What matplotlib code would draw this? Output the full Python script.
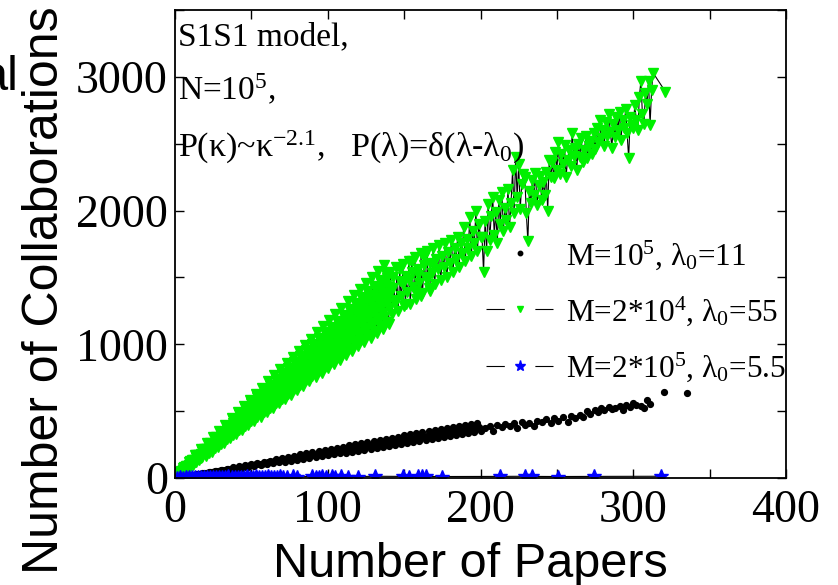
import matplotlib
matplotlib.use("Agg")
import matplotlib.pyplot as plt
from matplotlib.lines import Line2D
from matplotlib.legend_handler import HandlerTuple
from matplotlib.ticker import MultipleLocator

plt.rcParams['font.family'] = ['Liberation Serif', 'DejaVu Serif']
plt.rcParams['mathtext.fontset'] = 'custom'
plt.rcParams['mathtext.rm'] = 'Liberation Serif'
plt.rcParams['mathtext.it'] = 'Liberation Serif:italic'
plt.rcParams['mathtext.bf'] = 'Liberation Serif:bold'
plt.rcParams['mathtext.default'] = 'rm'
plt.rcParams['lines.scale_dashes'] = False

# M=2*10^4, lambda0=55 (papers, collaborations)
green_papers = [
    1, 2, 3, 4, 5, 6, 7, 8, 9, 10, 11, 12, 13, 14, 15, 16, 17, 18, 19, 20,
    21, 22, 23, 24, 25, 26, 27, 28, 29, 30, 31, 32, 33, 34, 35, 36, 37, 38, 39, 40,
    41, 42, 43, 44, 45, 46, 47, 48, 49, 50, 51, 52, 53, 54, 55, 56, 57, 58, 59, 60,
    61, 62, 63, 64, 65, 66, 67, 68, 69, 70, 71, 72, 73, 74, 75, 76, 77, 78, 79, 80,
    81, 82, 83, 84, 85, 86, 87, 88, 89, 90, 91, 92, 93, 94, 95, 96, 97, 98, 99, 100,
    101, 102, 103, 104, 105, 106, 107, 108, 109, 110, 111, 112, 113, 114, 115, 116, 117, 118, 119, 120,
    121, 122, 123, 124, 125, 126, 127, 128, 129, 130, 131, 132, 133, 134, 135, 136, 137, 138, 139, 140,
    141, 142, 143, 144, 145, 146, 147, 148, 149, 150, 151, 152, 153, 154, 155, 156, 157, 158, 159, 160,
    161, 162, 163, 164, 165, 166, 167, 168, 169, 170, 171, 172, 173, 174, 175, 176, 177, 178, 179, 180,
    181, 182, 183, 184, 185, 186, 187, 188, 189, 190, 191, 192, 193, 194, 195, 196, 197, 198, 199, 200,
    201, 202, 203, 204, 205, 206, 207, 208, 209, 210, 211, 212, 213, 214, 215, 216, 217, 218, 219, 220,
    221, 222, 223, 224, 225, 226, 227, 228, 229, 230, 231, 232, 233, 234, 235, 236, 237, 238, 239, 240,
    241, 242, 243, 244, 245, 246, 247, 248, 249, 250, 251, 252, 253, 254, 255, 256, 257, 258, 259, 260,
    261, 262, 263, 264, 265, 266, 267, 268, 269, 270, 271, 272, 273, 274, 275, 276, 277, 278, 279, 280,
    281, 282, 283, 284, 285, 286, 287, 288, 289, 290, 291, 292, 293, 294, 295, 296, 297, 298, 299, 300,
    301, 302, 303, 304, 305, 306, 307, 308, 309, 310, 311, 312, 313, 321,
]
green_collabs = [
    30, 34, 33, 33, 78, 74, 70, 66, 122, 116, 110, 98, 170, 158, 145, 131, 214, 201, 184, 165,
    262, 240, 221, 196, 306, 284, 258, 230, 352, 325, 295, 262, 398, 367, 331, 296, 446, 408, 369, 327,
    490, 450, 406, 362, 538, 491, 443, 394, 582, 532, 481, 426, 630, 574, 517, 459, 676, 615, 555, 492,
    722, 657, 592, 525, 768, 698, 629, 558, 813, 740, 666, 590, 860, 781, 703, 623, 905, 823, 740, 656,
    952, 864, 778, 689, 997, 906, 815, 722, 1043, 947, 852, 754, 1090, 989, 889, 787, 1136, 1030, 926, 820,
    1180, 1072, 963, 853, 1228, 1113, 1000, 886, 1273, 1155, 1038, 918, 1320, 1196, 1075, 951, 1365, 1238, 1112, 984,
    1412, 1279, 1149, 1017, 1457, 1321, 1186, 1050, 1503, 1362, 1224, 1082, 1550, 1404, 1261, 1115, 1595, 1445, 1298, 1148,
    1540, 1230, 1420, 1310, 1580, 1250, 1470, 1360, 1600, 1290, 1510, 1390, 1620, 1300, 1540, 1430, 1650, 1340, 1560, 1460,
    1680, 1380, 1590, 1500, 1700, 1420, 1610, 1530, 1720, 1450, 1640, 1560, 1740, 1480, 1660, 1580, 1760, 1500, 1690, 1610,
    1780, 1540, 1720, 1640, 1800, 1580, 1760, 1680, 1880, 1620, 1790, 1720, 1950, 1660, 1850, 1760, 2000, 1700, 1900, 1800,
    1800, 1540, 1920, 1700, 2050, 1780, 1960, 2100, 1820, 1990, 1760, 2080, 1900, 2140, 1850, 2020, 1930, 2160, 1880, 2060,
    2300, 1980, 2400, 2100, 2350, 2010, 2200, 2270, 2250, 1980, 1770, 2150, 2060, 2230, 2120, 2280, 2040, 2190, 2260, 2080,
    2210, 2120, 2290, 2000, 2380, 2250, 2360, 2240, 2440, 2300, 2510, 2270, 2420, 2350, 2490, 2250, 2380, 2450, 2330, 2580,
    2410, 2470, 2300, 2500, 2400, 2540, 2360, 2450, 2560, 2390, 2480, 2520, 2420, 2580, 2460, 2620, 2510, 2680, 2540, 2600,
    2480, 2660, 2560, 2720, 2590, 2470, 2650, 2550, 2700, 2600, 2740, 2530, 2680, 2620, 2760, 2580, 2390, 2700, 2640, 2620,
    2790, 2680, 2600, 2850, 2970, 2720, 2650, 2880, 2800, 2970, 2640, 2900, 3030, 2890,
]
# further authors of the same run with up to 140 papers (two more per count)
green_papers_b = [
    1, 2, 3, 4, 5, 6, 7, 8, 9, 10, 11, 12, 13, 14, 15, 16, 17, 18, 19, 20,
    21, 22, 23, 24, 25, 26, 27, 28, 29, 30, 31, 32, 33, 34, 35, 36, 37, 38, 39, 40,
    41, 42, 43, 44, 45, 46, 47, 48, 49, 50, 51, 52, 53, 54, 55, 56, 57, 58, 59, 60,
    61, 62, 63, 64, 65, 66, 67, 68, 69, 70, 71, 72, 73, 74, 75, 76, 77, 78, 79, 80,
    81, 82, 83, 84, 85, 86, 87, 88, 89, 90, 91, 92, 93, 94, 95, 96, 97, 98, 99, 100,
    101, 102, 103, 104, 105, 106, 107, 108, 109, 110, 111, 112, 113, 114, 115, 116, 117, 118, 119, 120,
    121, 122, 123, 124, 125, 126, 127, 128, 129, 130, 131, 132, 133, 134, 135, 136, 137, 138, 139, 140,
]
green_collabs_b = [
    12, 38, 37, 52, 47, 82, 75, 92, 82, 126, 114, 133, 117, 170, 152, 173, 152, 213, 190, 214,
    187, 257, 229, 254, 222, 301, 267, 295, 257, 345, 306, 335, 292, 388, 344, 376, 328, 432, 382, 416,
    363, 476, 421, 457, 398, 520, 459, 497, 433, 564, 497, 538, 468, 607, 536, 578, 503, 651, 574, 618,
    538, 695, 612, 659, 573, 739, 651, 699, 608, 782, 689, 740, 643, 826, 727, 780, 678, 870, 766, 821,
    713, 914, 804, 861, 748, 957, 842, 902, 783, 1001, 881, 942, 818, 1045, 919, 983, 853, 1089, 957, 1023,
    888, 1132, 996, 1063, 923, 1176, 1034, 1104, 958, 1220, 1072, 1144, 993, 1264, 1111, 1185, 1028, 1307, 1149, 1225,
    1063, 1351, 1187, 1266, 1099, 1395, 1226, 1306, 1134, 1439, 1264, 1347, 1169, 1482, 1303, 1387, 1204, 1526, 1341, 1428,
]
green_collabs_c = [
    20, 18, 47, 41, 59, 52, 90, 77, 99, 86, 132, 113, 138, 120, 175, 149, 177, 154, 218, 185,
    217, 188, 260, 222, 256, 222, 303, 258, 296, 256, 346, 294, 335, 289, 389, 330, 374, 323, 431, 366,
    414, 357, 474, 402, 453, 391, 517, 438, 493, 425, 559, 474, 532, 459, 602, 510, 571, 493, 645, 546,
    611, 526, 688, 583, 650, 560, 730, 619, 690, 594, 773, 655, 729, 628, 816, 691, 768, 662, 858, 727,
    808, 696, 901, 763, 847, 730, 944, 799, 887, 763, 986, 835, 926, 797, 1029, 871, 965, 831, 1072, 908,
    1005, 865, 1114, 944, 1044, 899, 1157, 980, 1084, 933, 1200, 1016, 1123, 967, 1243, 1052, 1162, 1000, 1285, 1088,
    1202, 1034, 1328, 1124, 1241, 1068, 1371, 1160, 1281, 1102, 1413, 1196, 1320, 1136, 1456, 1232, 1359, 1170, 1499, 1268,
]
green_papers_d = [141, 143, 145, 147, 149, 151, 153, 155, 157, 159, 161, 163, 165, 167, 169]
green_collabs_d = [1380, 1500, 1330, 1560, 1450, 1300, 1480, 1620, 1400, 1520, 1360, 1650, 1480, 1400, 1600]

# M=10^5, lambda0=11
black_papers = [
    4, 6, 8, 10, 12, 14, 16, 18, 20, 22, 24, 26, 28, 30, 32, 34, 36, 38, 40, 42,
    44, 46, 48, 50, 52, 54, 56, 58, 60, 62, 64, 66, 68, 70, 72, 74, 76, 78, 80, 82,
    84, 86, 88, 90, 92, 94, 96, 98, 100, 102, 104, 106, 108, 110, 112, 114, 116, 118, 120, 122,
    124, 126, 128, 130, 132, 134, 136, 138, 140, 142, 144, 146, 148, 150, 152, 154, 156, 158, 160, 162,
    164, 166, 168, 170, 172, 174, 176, 178, 180, 182, 184, 186, 188, 190, 192, 194, 196, 198, 200,
    5, 7, 9, 11, 13, 15, 17, 19, 21, 23, 25, 27, 29, 31, 33, 35, 37, 39, 41, 43,
    45, 47, 49, 51, 53, 55, 57, 59, 61, 63, 65, 67, 69, 71, 73, 75, 77, 79, 81, 83,
    85, 87, 89, 91, 93, 95, 97, 99, 101, 103, 105, 107, 109, 111, 113, 115, 117, 119, 121, 123,
    125, 127, 129, 131, 133, 135, 137, 139, 141, 143, 145, 147, 149, 151, 153, 155, 157, 159, 161, 163,
    165, 167, 169, 171, 173, 175, 177, 179, 181, 183, 185, 187, 189, 191, 193, 195, 197, 199,
    203, 206, 208, 211, 214, 216, 219, 222, 224, 227, 229, 232, 235, 237, 240, 243, 246, 248, 251, 254,
    257, 259, 262, 265, 267, 270, 272, 275, 277, 279, 281, 284, 286, 288, 291, 293, 295, 298, 300, 302,
    305, 307, 309, 311, 320, 335,
]
black_collabs = [
    6, 12, 14, 20, 21, 28, 29, 36, 35, 45, 42, 52, 50, 62, 56, 70, 63, 80, 70, 88,
    78, 96, 84, 104, 90, 112, 96, 122, 104, 130, 110, 140, 116, 150, 122, 158, 130, 168, 136, 176,
    142, 184, 150, 192, 156, 200, 164, 208, 170, 218, 176, 226, 184, 234, 190, 244, 198, 252, 204, 260,
    212, 268, 220, 276, 226, 286, 234, 294, 242, 302, 248, 310, 256, 318, 264, 326, 270, 334, 278, 342,
    286, 350, 292, 358, 300, 366, 308, 374, 314, 382, 322, 390, 330, 398, 336, 404, 344, 412, 350,
    9, 13, 17, 21, 26, 28, 33, 37, 40, 44, 48, 51, 56, 59, 63, 67, 70, 75, 78, 82,
    86, 89, 94, 97, 101, 105, 108, 113, 116, 120, 124, 127, 132, 135, 139, 143, 146, 151, 154, 158,
    162, 165, 170, 173, 177, 181, 184, 189, 192, 196, 200, 203, 208, 211, 215, 219, 222, 227, 230, 234,
    238, 241, 246, 249, 253, 257, 260, 265, 268, 272, 276, 279, 284, 287, 291, 295, 298, 303, 306, 310,
    314, 317, 322, 325, 329, 333, 336, 341, 344, 348, 352, 355, 360, 363, 367, 371, 374, 379,
    372, 390, 355, 395, 380, 404, 388, 410, 372, 420, 400, 415, 392, 430, 418, 440, 408, 445, 428, 455,
    420, 462, 448, 470, 455, 500, 478, 510, 490, 520, 505, 532, 515, 525, 540, 510, 545, 530, 560, 548,
    540, 525, 580, 555, 644, 637,
]

# M=2*10^5, lambda0=5.5
blue_papers = [
    1, 3, 5, 7, 9, 11, 13, 15, 17, 19, 21, 23, 25, 27, 29, 31, 33, 35, 37, 39,
    41, 43, 45, 47, 49, 51, 53, 55, 57, 59, 61, 63, 65, 67, 69, 71, 73, 77, 80, 90,
    92, 94, 96, 99, 103, 105, 109, 113, 120, 131, 149, 153, 159, 162, 164, 175, 213, 229, 234, 251,
    274, 318,
]
blue_collabs = [
    2, 4, 3, 6, 5, 7, 4, 8, 6, 9, 5, 10, 7, 8, 11, 6, 9, 12, 8, 10,
    7, 11, 9, 13, 8, 10, 12, 9, 11, 10, 12, 9, 11, 10, 12, 10, 11, 13, 9, 12,
    10, 11, 12, 10, 13, 11, 12, 10, 11, 13, 12, 11, 12, 13, 12, 11, 12, 13, 12, 11,
    12, 13,
]

series_labels = [
    r"M=10$^5$, λ$_0$=11",
    r"M=2*10$^4$, λ$_0$=55",
    r"M=2*10$^5$, λ$_0$=5.5",
]

green_pts = sorted(zip(green_papers + green_papers_b + green_papers_b + green_papers_d,
                       green_collabs + green_collabs_b + green_collabs_c + green_collabs_d))
gx = [p[0] for p in green_pts]
gy = [p[1] for p in green_pts]

W, H = 838, 585
fig = plt.figure(figsize=(W / 100, H / 100), dpi=100)
ax = fig.add_axes([175 / W, 107 / H, 611 / W, 468 / H])

GREEN = '#00f000'
BLUE = '#0000ff'
ax.plot(black_papers, black_collabs, ls='none', marker='o', ms=4.2,
        color='black')
ax.plot(gx, gy, ls='-', lw=0.8, color='black',
        marker='v', ms=7, mfc=GREEN, mec=GREEN)
ax.plot(blue_papers, blue_collabs, ls='-', lw=0.8, color='black',
        marker='*', ms=10, mfc=BLUE, mec=BLUE)

ax.set_xlim(0, 400)
ax.set_ylim(0, 3500)
ax.xaxis.set_major_locator(MultipleLocator(100))
ax.xaxis.set_minor_locator(MultipleLocator(50))
ax.yaxis.set_major_locator(MultipleLocator(1000))
ax.yaxis.set_minor_locator(MultipleLocator(500))
ax.tick_params(which='both', direction='in', top=True, right=True,
               length=6.5, width=1)
ax.tick_params(axis='x', labelsize=33, pad=8)
ax.tick_params(axis='y', labelsize=33, pad=5)
for s in ax.spines.values():
    s.set_linewidth(1.3)

# legend handles: line broken around the marker
leg_fs = 22.5
hlen = 2.15
gap = 22
seg = (hlen * leg_fs - gap) / 2
broken = (0, (seg, gap))
h_black = Line2D([], [], ls='none', marker='o', ms=3.2, color='black')
h_green = (Line2D([], [], color='black', lw=0.8, ls=broken),
           Line2D([], [], ls='none', marker='v', ms=5, color=GREEN))
h_blue = (Line2D([], [], color='black', lw=0.8, ls=broken),
          Line2D([], [], ls='none', marker='*', ms=8, color=BLUE))
ax.legend([h_black, h_green, h_blue], series_labels,
          handler_map={tuple: HandlerTuple(ndivide=1)},
          loc='upper left', bbox_to_anchor=(486 / W, 1 - 238 / H),
          bbox_transform=fig.transFigure, frameon=False, fontsize=leg_fs,
          handlelength=hlen, handletextpad=0.4, labelspacing=0.72,
          borderpad=0, borderaxespad=0, numpoints=1)

# model description in the upper left corner
fig.text(178 / W, 1 - 45 / H, "S1S1 model,", fontsize=24, va='baseline')
fig.text(178 / W, 1 - 100 / H, r"N=10$^5$,", fontsize=24, va='baseline')
fig.text(178 / W, 1 - 157 / H, r"P(κ)~κ$^{-2.1}$,   P(λ)=δ(λ-λ$_0$)",
         fontsize=24.5, va='baseline')

sans = ['Liberation Sans', 'DejaVu Sans']
fig.text(470 / W, 1 - 577 / H, "Number of Papers", fontsize=35,
         family=sans, ha='center', va='baseline')
fig.text(45 / W, 1 - 290 / H, "Number of Collaborations", fontsize=36,
         family=sans, rotation=90, ha='center', va='center')
fig.text(19 / W, 1 - 90 / H, "al", fontsize=35, family=sans,
         ha='right', va='baseline')

fig.savefig("out.png", dpi=100)
